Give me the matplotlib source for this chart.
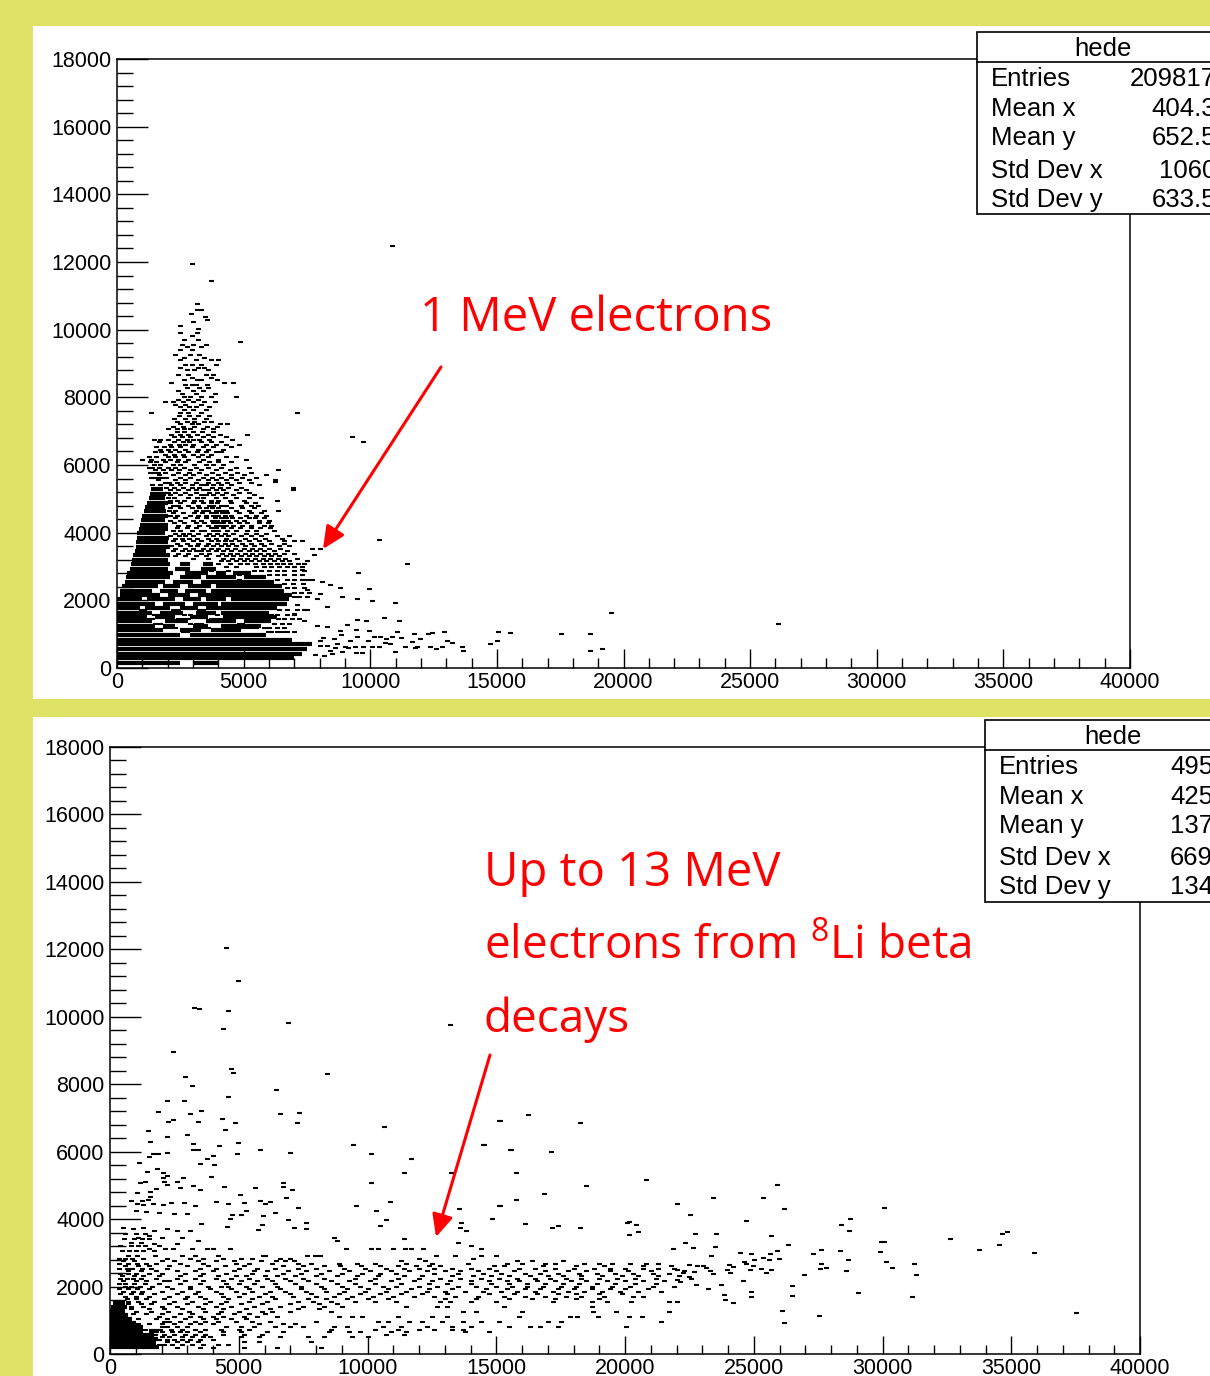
import matplotlib
matplotlib.use('Agg')
import matplotlib.pyplot as plt
from matplotlib.patches import Rectangle, FancyArrowPatch
from matplotlib.ticker import MultipleLocator

W, H = 1210, 1376
BG = '#E0E268'

## UPPER PANEL DATA: 1 MeV ELECTRONS ##
# solid black parts of the scatter, (y, [(x0, x1), ...])
top_spans = [
    (160, [(0, 2500), (3000, 4000)]), (290, [(0, 7000)]), (420, [(0, 7300)]), (560, [(0, 7500)]),
    (700, [(0, 7700)]), (840, [(0, 6900)]), (980, [(0, 2500), (2900, 5900)]),
    (1120, [(0, 1800), (2500, 3300), (3700, 4900)]),
    (1250, [(0, 1500), (1800, 2300), (3000, 3600), (4100, 5700)]),
    (1380, [(0, 1400), (1900, 2800), (3500, 4700), (5000, 6100)]),
    (1510, [(0, 1200), (1500, 2300), (2900, 3600), (4200, 6300)]),
    (1640, [(0, 1400), (1700, 2600), (3100, 3900), (4100, 6000)]),
    (1770, [(0, 900), (1100, 2100), (2500, 3200), (3500, 6300)]),
    (1900, [(0, 1500), (1800, 2700), (3000, 4000), (4100, 6700)]),
    (2030, [(0, 1000), (1200, 2300), (2600, 3300), (3500, 4300), (4500, 6800)]),
    (2160, [(100, 1700), (2000, 2900), (3200, 6900)]),
    (2290, [(100, 1400), (1700, 2400), (2700, 3500), (3700, 6600)]),
    (2420, [(200, 1600), (1800, 2500), (2800, 3700), (3900, 6500)]),
    (2550, [(300, 1900), (2200, 3000), (3300, 6200)]),
    (2680, [(350, 2100), (2500, 3300), (3500, 4700), (5000, 5900)]),
    (2810, [(400, 2200), (2700, 3600), (3900, 4300), (4600, 5300)]),
    (2940, [(500, 2000), (2300, 2900), (3300, 3900)]),
    (3070, [(550, 2100), (2500, 2900), (3400, 3800)]),
    (3200, [(600, 2000)]), (3330, [(650, 2100)]), (3460, [(700, 1950)]),
    (3590, [(750, 2100)]), (3720, [(750, 2000)]), (3850, [(800, 2050)]),
    (3980, [(800, 1900)]), (4110, [(850, 2000)]), (4240, [(900, 2000)]),
    (4370, [(950, 1900)]), (4500, [(1000, 2000)]), (4630, [(1050, 1950)]),
    (4760, [(1100, 1900)]), (4890, [(1200, 2000)]), (5020, [(1250, 1900)]),
    (5150, [(1300, 1950)]), (5280, [(1350, 1800)]),
]
# rows of single dashes, (y, [x, ...])
top_rows = [
    (9900, [2500, 3150]), (9825, [2950]), (9700, [2650, 3200]), (9550, [2550, 3000, 3500]),
    (9475, [3300, 2750]), (9400, [2500, 2950]), (9250, [2300, 2900, 3250]), (9175, [2650, 3450]),
    (9100, [2500, 3100, 3700, 4000]), (8950, [2700, 2950, 3300, 3900]), (8875, [2500, 3200, 3450]),
    (8800, [2750, 3050, 3600]), (8650, [2400, 2800, 3500, 3800]), (8575, [2950, 3700]),
    (8500, [2650, 3150, 3300, 3950]), (8430, [2120, 4240, 4600]), (8350, [2700, 2950, 3100, 3550]),
    (8275, [2750, 3250, 3600]), (8200, [2400, 3000, 3400]), (8100, [2550, 3100, 3850]),
    (8000, [2650, 2900, 3300, 3700, 4690]), (7925, [2400, 2800, 3200]),
    (7850, [1900, 2200, 2600, 3000, 3450, 3870]), (7775, [2300, 2700, 3300]),
    (7700, [2500, 2850, 3100, 3650]), (7625, [2650, 3000, 3500]),
    (7530, [1330, 2500, 2800, 3300, 7125]), (7450, [2450, 2850, 3200, 3650]),
    (7350, [2250, 2700, 3050, 3500]), (7275, [2350, 2750, 3050, 3450, 3700]),
    (7200, [2500, 2950, 3200, 4050, 4350]), (7125, [2200, 2600, 3050, 3550, 3950]),
    (7050, [2000, 2350, 2650, 2900, 3400, 3800]), (6975, [2350, 2650, 3000, 3350, 3800]),
    (6900, [2150, 2500, 2800, 3150, 3600, 4050, 5120]), (6825, [2250, 2550, 2900, 3400, 3800, 4300]),
    (6750, [1450, 1700, 2000, 2400, 2750, 3000, 3250, 3650, 4550]),
    (6675, [1650, 2250, 2600, 2850, 3300, 3700, 4100]),
    (6600, [2100, 2450, 2700, 3000, 3500, 3900, 4300, 4800]),
    (6525, [1550, 1850, 2150, 2500, 2950, 3400, 3800, 4500]),
    (6450, [1700, 2000, 2300, 2700, 3200, 3600, 4200]),
    (6375, [1500, 1750, 2100, 2450, 2800, 3150, 3500, 3900, 4100]),
    (6300, [1900, 2250, 2600, 3000, 3350, 3700]),
    (6225, [1250, 1550, 2000, 2300, 2650, 3200, 3600, 4300, 4700]),
    (6150, [1000, 1350, 1800, 2100, 2400, 2800, 3400, 4000, 5100]),
    (6075, [1300, 1550, 1900, 2350, 2700, 3250, 3650, 4000, 4500]),
    (6000, [1450, 1700, 2200, 2500, 3050, 3500, 3800, 4200]),
    (5925, [1250, 1400, 1650, 2000, 2300, 2650, 3100, 3600, 4100, 4700, 5200]),
    (5850, [1500, 1800, 2150, 2450, 2900, 3300, 3900, 4450, 6375]),
    (5775, [1300, 1450, 1600, 1900, 2400, 2850, 3250, 3750, 4250, 4750, 5300]),
    (5700, [1650, 2200, 2700, 3000, 3500, 4000, 4500, 5000, 5900]),
    (5625, [1350, 1450, 1600, 1750, 1950, 2500, 2900, 3400, 3750, 4100, 4500, 4950, 5500]),
    (5550, [1600, 2300, 2700, 3200, 3600, 3900, 4300, 4700, 5200, 6250]),
    (5475, [1900, 2050, 2350, 2700, 3100, 3600, 4000, 4350, 4800, 5300]),
    (5400, [1400, 1700, 2150, 2500, 2950, 3300, 3500, 3800, 4100, 4500, 5600]),
    (5325, [1950, 2250, 2600, 2950, 3250, 3750, 4050, 4400, 4900]),
    (5250, [2100, 2400, 2800, 3100, 3400, 3600, 3900, 4200, 4700, 5100, 6950]),
    (5175, [2000, 2300, 2700, 3100, 3650, 3950, 4300, 4800, 5200]),
    (5100, [2100, 2500, 2900, 3300, 3500, 3800, 4150, 4600, 5400]),
    (5025, [2000, 2250, 2800, 3150, 3400, 3900, 4250, 4700, 5200, 5700]),
    (4950, [2100, 2350, 2650, 3050, 3300, 3700, 4000, 4450, 5000, 6300]),
    (4875, [2100, 2500, 3000, 3400, 3700, 3950, 4500, 5100, 5450]),
    (4800, [2200, 2400, 2800, 3200, 3650, 3800, 4100, 4300, 4900, 5300, 5550]),
    (4725, [2100, 2500, 2950, 3250, 3500, 3750, 4000, 4500, 4950, 5400]),
    (4650, [2050, 2300, 3100, 3400, 3600, 3900, 4100, 4300, 4700, 5200, 5800, 6350]),
    (4575, [2200, 2600, 3050, 3350, 3700, 3900, 4150, 4350, 4800, 5300, 5700]),
    (4500, [2100, 2350, 2900, 3200, 3500, 3800, 4000, 4250, 4500, 5100, 5500, 5900]),
    (4425, [2300, 2700, 3150, 3500, 3850, 4100, 4300, 4550, 4850, 5200, 5450, 5800]),
    (4350, [2100, 2500, 3000, 3300, 3750, 3950, 4200, 4400, 4700, 5000, 5600, 6000]),
    (4275, [2250, 2650, 3100, 3450, 3800, 4000, 4200, 4450, 4800, 5150, 5600, 5950]),
    (4200, [2400, 2800, 3250, 3600, 3900, 4100, 4300, 4600, 4950, 5300, 5800, 6100]),
    (4125, [2350, 2750, 3100, 3700, 3900, 4200, 4500, 4850, 5300, 5650, 6050]),
    (4050, [2200, 2500, 2950, 3300, 3450, 3800, 4000, 4350, 4700, 5150, 5500, 6200]),
    (3975, [2300, 2600, 2850, 3200, 3650, 3950, 4250, 4600, 5100, 5500, 5900]),
    (3900, [2100, 2450, 2700, 3000, 3500, 3800, 4100, 4400, 4900, 5300, 5700, 6300, 6800]),
    (3825, [2300, 2550, 2850, 3150, 3600, 3900, 4300, 4650, 5050, 5450, 5850, 6500]),
    (3750, [2200, 2600, 3000, 3300, 3700, 4000, 4250, 4500, 4800, 5200, 5600, 6000, 6600, 7000, 7300]),
    (3675, [2350, 2750, 3200, 3600, 3950, 4250, 4550, 4950, 5300, 5700, 6100, 6600]),
    (3600, [2150, 2500, 2900, 3150, 3500, 3800, 4100, 4400, 4700, 5050, 5400, 5800, 6400, 6800]),
    (3525, [2300, 2700, 3000, 3400, 3700, 4000, 4350, 4650, 5000, 5350, 5650, 6000, 6450]),
    (3450, [2200, 2550, 2850, 3100, 3300, 3600, 3900, 4200, 4500, 4850, 5200, 5500, 5800, 6200, 6700]),
    (3375, [2400, 2800, 3300, 3650, 4150, 4450, 4750, 5050, 5350, 5650, 5950, 6250, 6600, 7000]),
    (3300, [2300, 2700, 3100, 3500, 4000, 4300, 4600, 4900, 5200, 5500, 5800, 6100, 6400]),
    (3225, [3000, 3600, 4200, 4550, 4850, 5150, 5450, 5750, 6050, 6350, 6650, 7100]),
    (3150, [4100, 4400, 4700, 5000, 5300, 5600, 5900, 6200, 6500, 6800]),
    (3075, [4000, 4450, 4850, 5150, 5450, 5750, 6050, 6300, 6550, 6850, 7150, 7400]),
    (3000, [4300, 4700, 5500, 5800, 6100, 6400, 6700, 7000, 7300]),
    (2875, [3700, 4400, 5400, 5700, 6000, 6300, 6600, 7000, 7400]),
    (2745, [4800, 6000, 6300, 6600, 7000, 7300]), (2615, [4800, 6300, 6700, 7000, 7300, 7500]),
    (2485, [6600, 6950, 7350]), (2355, [6700, 7000, 7400]), (2225, [7000, 7250, 7600]),
    (2095, [7000, 7200, 7500]), (1705, [950, 1050, 2200, 2400, 3250, 3400, 6400, 6700, 7100, 7400]),
    (1575, [1450, 1600, 2650, 2900, 3950, 6100, 6300, 6700, 7000]),
    (1445, [1250, 1400, 2400, 2600, 2800, 3700, 3900, 4100, 6350, 6600, 6900, 7200]),
    (1315, [1500, 1700, 2900, 3100, 3300, 4800, 4950, 6200, 6500, 6800]),
    (1180, [1900, 2100, 2300, 3400, 3600, 4950, 5100, 5300, 5500, 5800, 6000, 6300, 6600]),
    (1050, [2600, 2750, 5950, 6100, 6300, 6500, 6700, 7000]),
]
top_pts = [
    (2950, 11940), (3715, 11450), (10850, 12480), (3150, 10760), (3150, 10580), (3300, 10580),
    (2910, 10470), (3480, 10360), (3540, 10300), (3020, 10220), (2490, 10100), (3190, 10010),
    (4860, 9640), (9280, 6830), (9720, 6680), (6940, 5330), (6240, 5510), (7690, 3510),
    (8020, 3510), (7760, 3340), (7500, 3150), (7000, 3000), (7300, 2900), (7700, 2600),
    (8100, 2550), (8400, 2450), (8800, 2350), (7500, 2300), (8000, 2200), (8900, 2100),
    (7900, 2050), (8300, 1800), (7100, 1850), (7500, 1700), (7000, 1600), (7400, 1400),
    (10360, 3770), (11470, 3085), (9500, 2800), (9970, 2330), (9470, 2040), (10060, 1990),
    (10990, 1910), (19490, 1620), (26090, 1300), (10560, 1480), (11140, 1390), (9480, 1420),
    (9850, 1390), (9100, 1270), (9440, 1125), (9970, 1085), (11050, 1065), (11710, 1010),
    (12300, 1010), (12430, 1020), (12920, 1065), (15040, 1075), (15500, 1045), (17540, 1005),
    (18690, 1005), (14990, 790), (14740, 700), (18690, 495), (19150, 555), (13680, 495),
    (13620, 630), (13220, 730), (13050, 810), (12850, 620), (12600, 555), (12370, 630),
    (11840, 630), (11750, 600), (11380, 610), (10960, 465), (11970, 850), (11640, 780),
    (11210, 880), (10850, 930), (10630, 870), (10390, 910), (10130, 930), (9930, 810),
    (9470, 930), (8840, 970), (8550, 870), (8150, 880), (10350, 610), (10060, 610),
    (9730, 610), (9400, 630), (9140, 580), (8880, 485), (9670, 435), (9440, 435),
    (8610, 580), (8280, 650), (8020, 650), (8180, 355), (7820, 385), (10780, 710),
    (10590, 750), (8000, 800), (8400, 500), (8700, 700), (7900, 1250), (8300, 1200),
    (8800, 1100), (9200, 800), (9000, 620), (8500, 420),
]

## LOWER PANEL DATA: UP TO 13 MEV ELECTRONS ##
bot_spans = [
    (200, [(0, 1900)]), (320, [(0, 1800)]), (440, [(0, 1850)]), (560, [(0, 1700)]),
    (680, [(0, 1300), (1500, 1900)]), (800, [(0, 1300)]), (920, [(0, 1000)]),
    (1040, [(0, 850)]), (1160, [(0, 700)]), (1280, [(0, 600)]), (1400, [(50, 650)]),
    (1520, [(100, 600)]),
]
bot_rows = [
    (3550, [600, 1000, 1350]), (3400, [550, 950, 1250, 1500]), (3200, [400, 800, 1100, 1350, 1900]),
    (3100, [1500, 2150, 2450, 3200, 3750, 4000, 4650, 9150, 10130, 10400, 11000, 11440, 11700, 12170]),
    (3050, [450, 750, 1000, 1300, 1700]),
    (2900, [700, 1050, 1750, 2800, 3300, 4200, 5950, 6000, 7650, 7950, 8150, 12650, 13400, 14400, 15000]),
    (2825, [350, 600, 850, 1300, 2200, 3100, 3600, 4400, 5100, 5500, 6600, 7000, 12000, 14100]),
    (2750, [500, 950, 2000, 2500, 3400, 4100, 4800, 5850, 6450, 6800, 7150, 11300, 12250, 15800, 16400, 17600]),
    (2675, [350, 700, 1050, 1400, 1800, 2700, 3600, 4900, 5400, 6300, 7300, 7800, 8900, 9600, 10300, 11500, 12500, 13900, 15400, 16000, 16900, 17300, 18400, 19000, 19500, 20200, 20800, 21300]),
    (2600, [600, 1100, 1500, 2300, 3000, 3800, 4450, 5200, 6700, 7500, 8300, 8950, 9750, 10500, 11200, 11900, 12400, 12800, 14900, 15300, 16800, 18100, 19200, 20700, 21800, 22800]),
    (2525, [350, 650, 850, 1250, 1600, 2200, 3500, 4100, 5000, 5700, 6400, 7300, 8000, 9100, 9900, 10700, 11400, 12000, 12600, 13300, 14000, 14700, 15900, 16500, 17300, 18000, 18800, 19400, 20000, 20700, 21300, 21900]),
    (2450, [700, 1200, 1800, 2600, 3300, 4000, 4800, 5600, 6100, 6900, 7600, 8500, 9300, 10100, 10900, 11600, 12300, 13000, 13600, 14300, 15000, 15700, 16900, 17800, 18500, 19400, 20100, 21000, 22300, 23300]),
    (2375, [400, 700, 1000, 1500, 2000, 2900, 3600, 4500, 5500, 6700, 7400, 8200, 9000, 9800, 10500, 11100, 12600, 13500, 14500, 15200, 16100, 16700, 17400, 18200, 18900, 19600, 20300, 21100, 21700]),
    (2300, [450, 950, 1300, 1900, 2700, 3500, 4200, 4900, 5300, 6000, 6500, 7200, 8000, 8800, 9600, 10400, 11400, 12100, 13300, 14100, 14800, 15500, 16300, 17000, 17600, 18300, 19100, 19900, 20500, 21300, 22100]),
    (2225, [400, 650, 900, 1200, 1800, 2600, 3300, 4100, 4700, 5400, 6100, 6800, 7500, 8300, 9500, 10300, 11200, 12000, 12800, 13600, 14400, 15100, 15800, 16500, 17100, 17700, 18300, 19000, 19700, 20400, 21200]),
    (2150, [500, 1000, 1400, 2100, 2300, 2900, 3600, 4400, 5100, 5700, 6300, 7000, 7700, 8600, 9300, 10100, 10900, 11800, 12500, 13200, 14000, 14700, 15400, 15900, 16600, 17300, 17900, 18500, 19300, 20000, 20700, 21500]),
    (2075, [350, 600, 950, 1350, 1900, 2700, 3500, 4500, 5000, 5600, 6400, 7200, 8000, 8800, 9500, 10300, 11300, 12400, 13100, 14000, 14800, 15500, 16200, 16900, 17600, 18200, 18900, 19600, 20400, 21200]),
    (2000, [600, 800, 1150, 1650, 2200, 3100, 3800, 4300, 4600, 5300, 5900, 6500, 7400, 8200, 9000, 9700, 10600, 11100, 12000, 12700, 13500, 14200, 15000, 15600, 16200, 16800, 17500, 18100, 18700, 19500, 20200, 21100, 21900]),
    (1925, [350, 700, 1050, 1500, 2400, 3100, 3900, 4700, 5400, 6600, 7400, 8300, 9200, 10000, 10800, 11700, 12400, 13300, 14600, 15400, 16100, 16700, 17400, 18000, 18700, 19400, 20000, 20900]),
    (1850, [500, 900, 1250, 2000, 2800, 3400, 4100, 4900, 5500, 6200, 6800, 7600, 8400, 9100, 9900, 10700, 11500, 12300, 13000, 13800, 14500, 15200, 15800, 16500, 17200, 17800, 18400, 19100, 19800, 20500, 21400]),
    (1775, [400, 800, 1200, 1700, 2600, 3300, 4300, 5200, 6000, 7000, 7800, 8900, 9700, 10500, 11300, 12100, 13100, 14700, 15700, 16600, 17400, 18100, 19000, 19900]),
    (1700, [600, 1000, 1500, 2300, 3000, 3500, 4400, 5000, 5800, 6300, 7100, 8000, 8700, 9400, 10200, 11000, 11800, 12600, 13400, 14300, 15300, 16100, 16900, 17700, 18300, 19200, 20300, 20700]),
    (1625, [650, 1000, 1400, 2100, 2900, 3700, 4600, 5500, 6400, 7700, 8400, 9200, 10000, 10800, 13000, 14200, 15500, 16400, 17300, 18100, 19000]),
    (1550, [700, 1100, 1700, 2500, 3200, 3900, 4500, 5400, 6100, 7300, 7900, 8600, 9500, 10300, 11100, 12800, 13200, 14000, 15000, 17200, 18700, 19300, 20250, 21700, 22000]),
    (1475, [700, 1200, 1600, 2300, 3000, 3700, 4300, 5100, 5900, 7000, 8100, 8800]),
    (1400, [800, 1300, 2000, 2600, 3400, 4100, 4700, 5600, 6600, 7500, 8300, 9000, 11500, 12700, 13100, 15300, 18720]),
    (1325, [800, 1500, 2100, 2800, 3600, 4400, 5300, 6200, 7300, 8100]),
    (1250, [1000, 1600, 2250, 3050, 3700, 4300, 5000, 5900, 6300, 7000, 8600, 13700, 14200, 16000, 18750, 19660, 21720]),
    (1175, [900, 1400, 2000, 2700, 3200, 4200, 4800, 5400, 6000]),
    (1100, [1900, 2500, 3100, 3500, 4000, 4400, 5200, 5700, 6500, 8900, 9400, 9800, 11200, 12500, 13100, 15900, 17850, 18150, 18950, 20150, 20660]),
    (1025, [1100, 1800, 2200, 2900, 3600, 4100, 4700, 5300]),
    (950, [2100, 2300, 2700, 3300, 3700, 4200, 4900, 5500, 6200, 8000, 10400, 10800, 11600, 12100, 12900, 13700, 14400, 15100, 17000, 17500, 21390]),
    (875, [1100, 1500, 2000, 2500, 3100, 3500, 4000, 5800, 6700, 7200]),
    (800, [2000, 2200, 2600, 3000, 4500, 5100, 5600, 6400, 7000, 7500, 8700, 9200, 10600, 11300, 12300, 13300, 14000, 15500, 16300, 16700, 17400, 20030]),
    (725, [1350, 1950, 2350, 2800, 3300, 3700, 4300, 5000, 5400, 8600, 10300, 11200, 12000, 12600, 13300, 13700]),
    (650, [2000, 2400, 2700, 3000, 3500, 4400, 5100, 6100, 6700, 8500, 9300, 9700, 10900, 11500, 13800, 14700]),
    (575, [1750, 2100, 2500, 2900, 3300, 3700, 4400, 5200, 5900, 10700, 11400]),
    (500, [2000, 2300, 2800, 3200, 3600, 3900, 5100, 5800, 6600, 7700, 8300, 9400, 10000]),
    (425, [1900, 2200, 2500, 2800, 3100, 3500, 4000]),
    (350, [2200, 2600, 3000, 3400, 5200, 5800, 7800]),
    (275, [1900, 2100, 2400, 2800, 3200, 3600, 4200, 4600]),
    (180, [1000, 2600, 3500, 4000, 5200, 6500, 8200]),
]
bot_pts = [
    (4500, 12030), (4960, 11060), (3260, 10250), (3450, 10220), (4600, 10170), (4400, 9630),
    (6910, 9830), (13190, 9760), (2430, 8960), (2910, 8225), (3200, 7960), (4680, 8440),
    (4780, 8320), (8420, 8300), (6440, 7820), (4600, 7610), (2220, 7500), (2870, 7500),
    (1880, 7180), (3100, 7110), (3520, 7220), (4340, 6980), (4850, 6840), (6600, 7110),
    (7350, 7160), (7260, 6860), (2460, 6950), (2260, 6870), (3430, 6870), (10650, 6720),
    (1475, 6610), (4460, 6630), (2990, 6500), (2230, 6430), (1565, 6300), (3210, 6240),
    (4230, 6180), (4960, 6270), (3240, 6040), (3430, 6060), (5820, 6040), (1660, 5930),
    (1880, 5920), (2200, 5950), (1530, 5830), (4920, 5920), (6990, 5950), (9420, 6200),
    (10120, 5920), (11670, 5780), (14510, 6210), (15560, 6060), (15130, 6920), (3750, 5770),
    (4010, 5880), (1140, 5670), (3490, 5640), (4050, 5610), (11430, 5380), (13240, 5380),
    (1420, 5410), (1810, 5490), (2060, 5360), (2200, 5280), (2850, 5230), (3920, 5260),
    (2070, 5210), (2110, 5110), (1360, 5110), (1160, 5060), (2590, 5090), (3240, 4990),
    (6700, 5080), (6730, 4940), (2200, 5000), (4430, 4940), (5650, 4910), (7050, 4860),
    (10130, 5060), (2720, 4910), (3490, 4860), (1770, 4880), (1550, 4800), (1030, 4770),
    (5050, 4720), (6820, 4620), (1550, 4670), (800, 4540), (1230, 4540), (1490, 4570),
    (2070, 4420), (4100, 4520), (5200, 4490), (5820, 4540), (6020, 4450), (6210, 4520),
    (9550, 4400), (10860, 4510), (10320, 4250), (13560, 4310), (15130, 4390), (14840, 3990),
    (3300, 4380), (2880, 4470), (2370, 4470), (1680, 4450), (1040, 4450), (1300, 4420),
    (4600, 4450), (7310, 4320), (6400, 4170), (5300, 4250), (5090, 4130), (4720, 4120),
    (10700, 3960), (10480, 3800), (5950, 4080), (5890, 3830), (5760, 3680), (4660, 3990),
    (4530, 3780), (6900, 3960), (7160, 3730), (7620, 3880), (7620, 3710), (3520, 3860),
    (13650, 3880), (13590, 3730), (13820, 3650), (1000, 4250), (1400, 4200), (1900, 4180),
    (2500, 4150), (3000, 4150), (500, 3750), (900, 3700), (1300, 3750), (1700, 3650),
    (2200, 3700), (2600, 3650), (3100, 3650), (1100, 3450), (1500, 3500), (2000, 3450),
    (2800, 3450), (3400, 3350), (800, 3300), (1200, 3300), (1700, 3250), (2600, 3250),
    (8700, 3450), (8800, 3350), (11400, 3400), (13500, 3300), (14400, 3100), (14000, 3200),
    (15100, 6920), (16230, 7090), (18240, 6860), (14470, 6210), (15520, 6060), (17120, 5980),
    (15760, 5380), (18490, 4990), (20800, 5160), (16870, 4740), (15760, 4570), (15100, 4390),
    (22000, 4450), (23420, 4620), (25340, 4620), (25900, 5020), (26190, 4310), (30070, 4330),
    (22510, 4130), (14820, 3990), (16130, 3850), (17180, 3730), (17410, 3790), (18260, 3740),
    (24680, 3930), (20060, 3890), (20150, 3920), (20430, 3820), (28380, 3820), (28730, 3990),
    (28700, 3650), (20490, 3620), (20150, 3540), (22700, 3560), (23540, 3560), (25670, 3500),
    (32610, 3420), (34660, 3560), (34850, 3620), (34540, 3240), (33730, 3070), (35890, 2990),
    (29920, 3030), (29960, 3310), (30070, 3330), (26340, 3240), (28350, 3050), (27620, 3070),
    (27320, 2960), (30150, 2730), (30360, 2550), (31240, 2670), (31300, 2350), (28650, 2780),
    (28590, 2470), (27620, 2670), (27580, 2530), (27810, 2550), (26940, 2330), (26500, 2020),
    (26500, 1720), (29040, 1810), (31160, 1690), (26080, 1270), (27520, 1120), (26190, 920),
    (37510, 1210), (24880, 1840), (24880, 1700), (24200, 1520), (23900, 1600), (23830, 1750),
    (23730, 2040), (23230, 1920), (22770, 2040), (24570, 2150), (24470, 2990), (24880, 2960),
    (25650, 2960), (25910, 3040), (25370, 2840), (25600, 2790), (25970, 2810), (25000, 2780),
    (24620, 2730), (24960, 2620), (24710, 2670), (25270, 2510), (25480, 2410), (25670, 2490),
    (24850, 2500), (24030, 2640), (24190, 2590), (23960, 2490), (24060, 2410), (23340, 2910),
    (23510, 3160), (22650, 3130), (22340, 3280), (21850, 3100), (23030, 2620), (23140, 2540),
    (22490, 2640), (22680, 2440), (22260, 2390), (22000, 2490), (23420, 2360), (22030, 2180),
    (22150, 2130), (22470, 2270), (22570, 2230),
]

y_major = [0, 2000, 4000, 6000, 8000, 10000, 12000, 14000, 16000, 18000]
x_major = [0, 5000, 10000, 15000, 20000, 25000, 30000, 35000, 40000]

stats_names = ['Entries', 'Mean x', 'Mean y', 'Std Dev x', 'Std Dev y']
top_stats = ['209817', '404.3', '652.5', '1060', '633.5']
bot_stats = ['4959', '4257', '1373', '6695', '1341']

plt.rcParams['font.family'] = ['Liberation Sans', 'DejaVu Sans']
plt.rcParams['mathtext.default'] = 'regular'

fig = plt.figure(figsize=(W / 100, H / 100), dpi=100, facecolor=BG)


def fx(px):
    return px / W


def fy(py):
    return 1 - py / H


def make_panel(left, right, top, bottom, spans, rows, pts, maj_x, min_x, maj_y, min_y):
    ax = fig.add_axes([fx(left), fy(bottom), fx(right - left), (bottom - top) / H])
    ax.set_xlim(0, 40000)
    ax.set_ylim(0, 18000)
    ax.set_xticks(x_major)
    ax.set_yticks(y_major)
    ax.set_yticklabels([str(v) for v in y_major])
    ax.xaxis.set_minor_locator(MultipleLocator(1000))
    ax.yaxis.set_minor_locator(MultipleLocator(400))
    ax.tick_params(axis='x', which='major', direction='in', length=maj_x * 0.72, width=1, labelsize=15.5, pad=3)
    ax.tick_params(axis='x', which='minor', direction='in', length=min_x * 0.72, width=1)
    ax.tick_params(axis='y', which='major', direction='in', length=maj_y * 0.72, width=1, labelsize=15.5, pad=4)
    ax.tick_params(axis='y', which='minor', direction='in', length=min_y * 0.72, width=1)
    for s in ax.spines.values():
        s.set_linewidth(1.1)

    for y, parts in spans:
        for x0, x1 in parts:
            ax.plot([x0, x1], [y, y], color='k', lw=3, solid_capstyle='butt', zorder=2)
    xs = []
    ys = []
    for y, row in rows:
        for x in row:
            xs.append(x)
            ys.append(y)
    for x, y in pts:
        xs.append(x)
        ys.append(y)
    ax.plot(xs, ys, ls='', marker='_', ms=3.6, mew=1.5, color='k', zorder=2)
    return ax


def stats_box(left, top, bottom, divider, title_x, name_x, row_y, values, val_x=None, val_right=None):
    fig.add_artist(Rectangle((fx(left), fy(bottom)), fx(W + 20 - left), (bottom - top) / H, transform=fig.transFigure,
                             facecolor='white', edgecolor='k', lw=1.2, zorder=5))
    fig.add_artist(plt.Line2D([fx(left), 1], [fy(divider), fy(divider)], color='k', lw=1.2, zorder=6))
    fig.text(fx(title_x), fy((top + divider) / 2 + 2), 'hede', fontsize=18.5, ha='center', va='center', zorder=7)
    for name, val, yy in zip(stats_names, values, row_y):
        fig.text(fx(name_x), fy(yy + 1), name, fontsize=18.5, ha='left', va='center', zorder=7)
        if val_right is not None:
            fig.text(fx(val_right), fy(yy + 1), val, fontsize=18.5, ha='right', va='center', zorder=7)
        else:
            fig.text(fx(val_x), fy(yy + 1), val, fontsize=18.5, ha='left', va='center', zorder=7)


def red_arrow(x0, y0, x1, y1):
    arrow = FancyArrowPatch((fx(x0), fy(y0)), (fx(x1), fy(y1)), transform=fig.transFigure,
                            arrowstyle='-|>,head_length=0.75,head_width=0.35', mutation_scale=18,
                            color='#FF0000', lw=2.2, shrinkA=0, shrinkB=0, zorder=8)
    fig.add_artist(arrow)


# white slides behind both plots
fig.add_artist(Rectangle((fx(33), fy(699)), 1, (699 - 26) / H, transform=fig.transFigure, facecolor='white', edgecolor='none', zorder=-5))
fig.add_artist(Rectangle((fx(33), 0), 1, (1376 - 717) / H, transform=fig.transFigure, facecolor='white', edgecolor='none', zorder=-5))

make_panel(117, 1130, 59, 668, top_spans, top_rows, top_pts, 19, 10, 31, 16)
make_panel(110, 1140, 747, 1354, bot_spans, bot_rows, bot_pts, 18, 9, 31, 16)

stats_box(977, 32, 214, 62, 1103, 991, [78, 108, 137, 170, 199], top_stats, val_right=1216)
stats_box(985, 720, 902, 750, 1113, 999, [766, 796, 825, 857, 886], bot_stats, val_x=1170)

red_font = ['Open Sans', 'DejaVu Sans']
fig.text(fx(420), fy(318), '1 MeV electrons', color='#FF0000', fontsize=34, family=red_font, va='center', zorder=8)
fig.text(fx(484), fy(873), 'Up to 13 MeV', color='#FF0000', fontsize=34, family=red_font, va='center', zorder=8)
fig.text(fx(484), fy(947), 'electrons from $^{8}$Li beta', color='#FF0000', fontsize=33, family=red_font, va='center', zorder=8)
fig.text(fx(484), fy(1020), 'decays', color='#FF0000', fontsize=33, family=red_font, va='center', zorder=8)

red_arrow(441, 367, 323, 549)
red_arrow(490, 1055, 436, 1237)

fig.savefig('out.png', dpi=100, facecolor=BG)
